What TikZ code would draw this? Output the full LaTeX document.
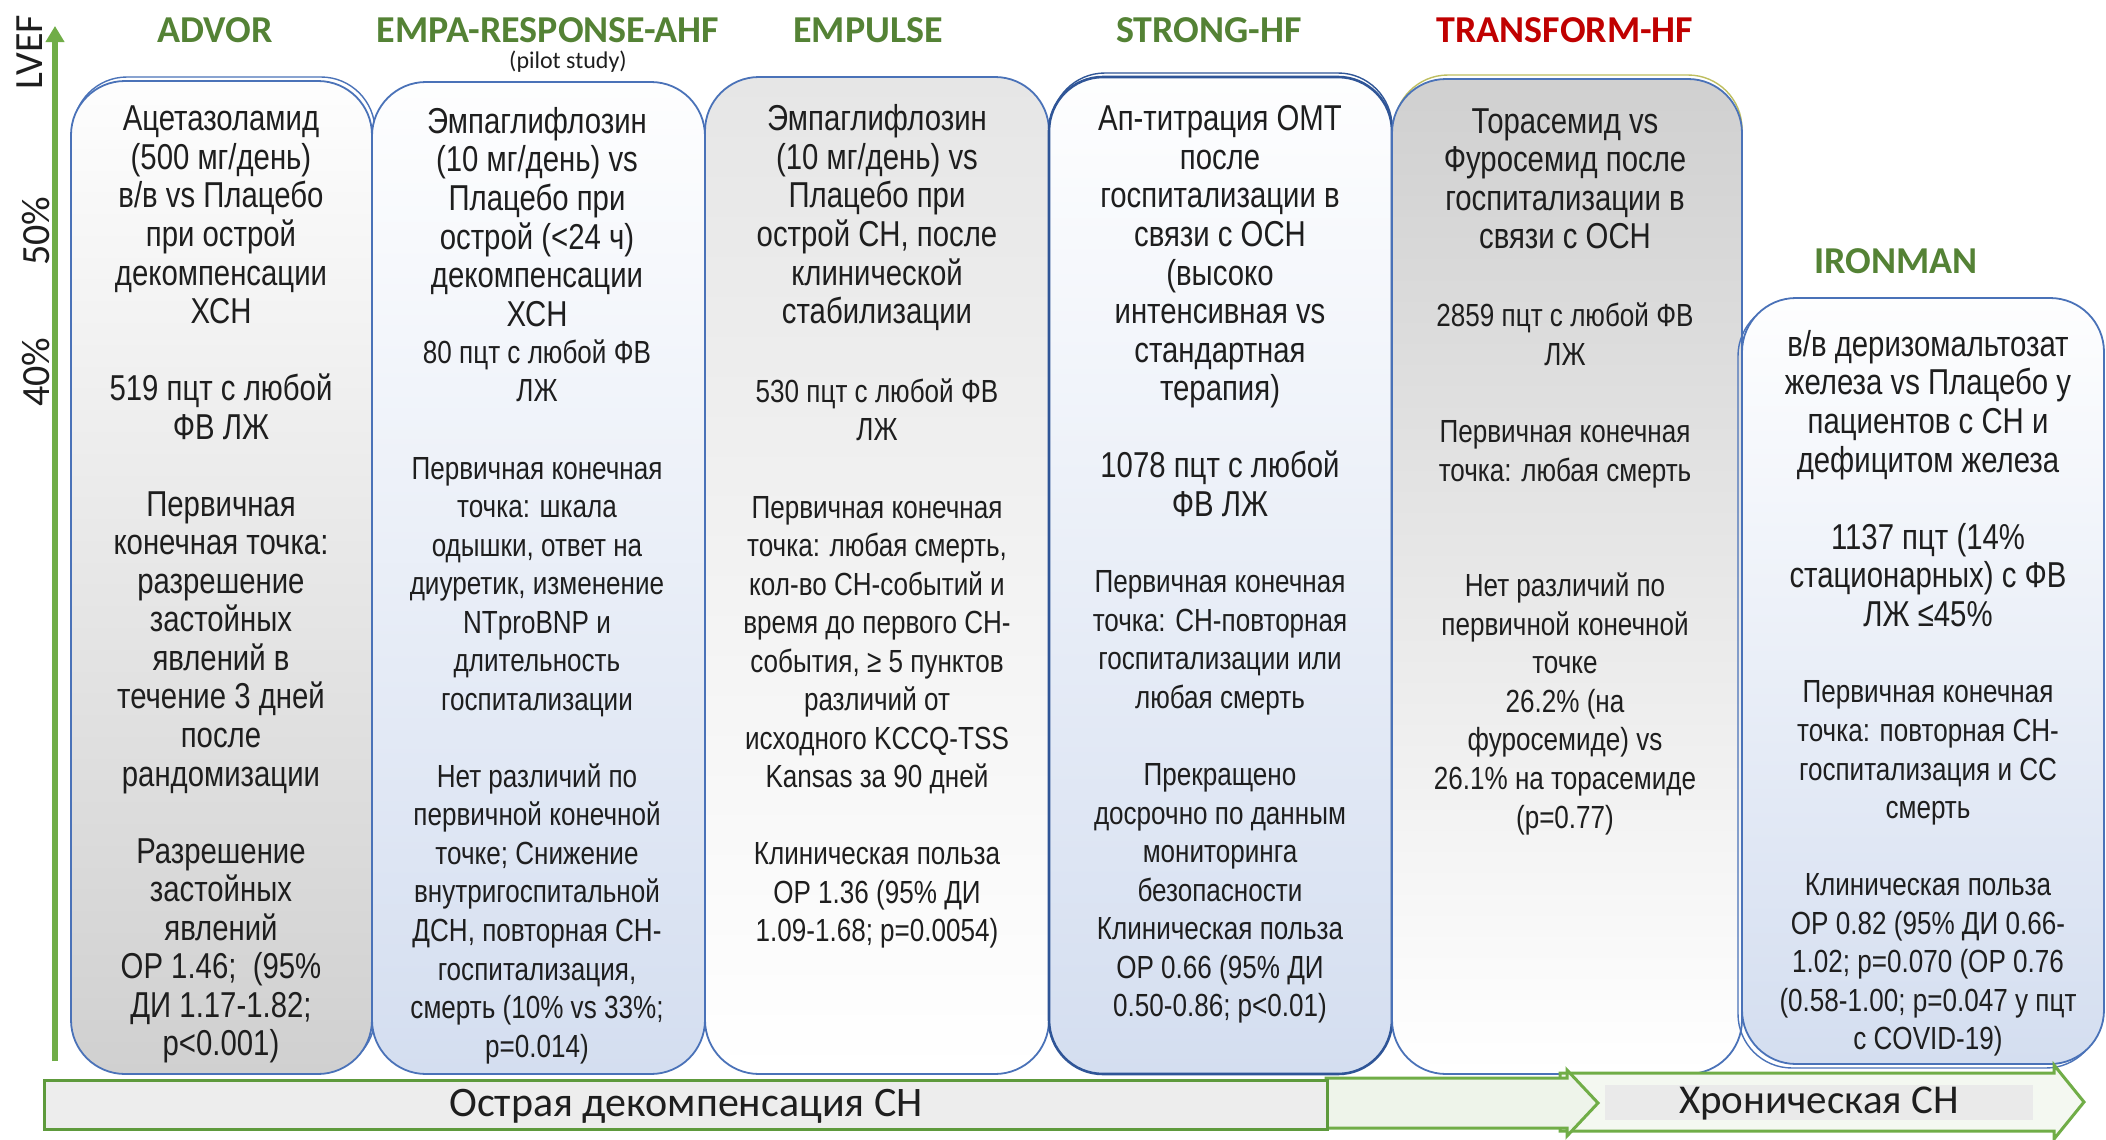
\documentclass[tikz,border=0pt]{standalone}
\usepackage{fontspec}
\setmainfont{Liberation Sans}
\newfontfamily\boxfont{Liberation Sans}[FakeStretch=0.815]
\newfontfamily\calfont{Carlito}
\usetikzlibrary{arrows.meta}
\definecolor{cardblue}{HTML}{4A72B8}
\definecolor{cardblue2}{HTML}{2F5597}
\definecolor{txt}{HTML}{1E1E1E}
\definecolor{hgreen}{HTML}{548235}
\definecolor{hred}{HTML}{C00000}
\definecolor{axgreen}{HTML}{70AD47}
\definecolor{arrgreen}{HTML}{5E9A3C}
\definecolor{greyA}{HTML}{D0D0D0}
\definecolor{greyB}{HTML}{E6E6E6}
\definecolor{blueA}{HTML}{D4DEF0}
\definecolor{barfill}{HTML}{EDEDED}
\definecolor{midfill}{HTML}{EEF4EA}
\definecolor{rightfill}{HTML}{F4F8F1}
\definecolor{labfill}{HTML}{EAEAEA}
\begin{document}
\begin{tikzpicture}[x=0.5pt,y=-0.5pt,
  card/.style={draw=cardblue, line width=0.9pt, rounded corners=27pt},
  ghost/.style={draw=cardblue, line width=0.7pt, rounded corners=27pt},
  big/.style={font=\boxfont\fontsize{18pt}{19.27pt}\selectfont, align=center, anchor=north, inner sep=0pt, text=txt},
  small/.style={font=\boxfont\fontsize{16pt}{19.27pt}\selectfont, align=center, anchor=north, inner sep=0pt, text=txt},
  trial/.style={font=\calfont\bfseries\fontsize{19pt}{21pt}\selectfont, text=hgreen, inner sep=0pt},
  axlabel/.style={font=\calfont\fontsize{20pt}{22pt}\selectfont, text=txt, rotate=90, inner sep=0pt},
  phase/.style={font=\calfont\fontsize{21pt}{24pt}\selectfont, text=txt, inner sep=0pt},
  greenline/.style={draw=arrgreen, line width=1.5pt, line join=miter}
]
\fill[white] (0,0) rectangle (2106,1140);
\useasboundingbox (0,0) rectangle (2106,1140);

% ---- axis ----
\coordinate (axbot) at (55,1061);
\coordinate (axtop) at (55,26);
\draw[axgreen, line width=2.6pt, -{Triangle[width=9pt,length=8pt]}] (axbot) -- (axtop);
\node[axlabel] (lvef) at (30,52) {LVEF};
\node[axlabel] (p50) at (36,231) {50\%};
\node[axlabel] (p40) at (36,372) {40\%};

% ---- headings ----
\node[trial] (hadvor) at (215,30) {ADVOR};
\node[trial] (hempa) at (548,30) {EMPA-RESPONSE-AHF};
\node[font=\calfont\fontsize{12pt}{14pt}\selectfont, text=txt, inner sep=0pt] (pilot) at (568,62) {(pilot study)};
\node[trial] (hempulse) at (868,30) {EMPULSE};
\node[trial] (hstrong) at (1209,30) {STRONG-HF};
\node[trial, text=hred] (htrans) at (1565,30) {TRANSFORM-HF};
\node[trial] (hiron) at (1896,261) {IRONMAN};

% ---- cards ----
\draw[ghost] (73,77) rectangle (375,1070);
\draw[card, top color=white!97!greyA, bottom color=greyA] (71,81) rectangle (372,1074);
\draw[card, top color=white!97!blueA, bottom color=blueA] (372,82) rectangle (705,1074);
\draw[card, top color=greyB, bottom color=white] (705,77) rectangle (1049,1074);
\draw[ghost, draw=cardblue2] (1051,73) rectangle (1392,1070);
\draw[card, draw=cardblue2, line width=1.3pt, top color=white!97!blueA, bottom color=blueA] (1049,77) rectangle (1392,1074);
\draw[ghost, draw=yellow!60!cardblue] (1394,75) rectangle (1742,1070);
\draw[card, top color=greyA, middle color=white, bottom color=white] (1392,79) rectangle (1742,1074);
\draw[ghost] (1738,302) rectangle (2100,1068);
\draw[card, top color=white!97!blueA, bottom color=blueA] (1742,298) rectangle (2104,1064);

% ---- card texts ----
\node[big] (t1) at (221,103.5) {\strut Ацетазоламид\\(500 мг/день)\\в/в vs Плацебо\\при острой\\декомпенсации\\ХСН\\[19.27pt]519 пцт с любой\\ФВ ЛЖ\\[19.27pt]Первичная\\конечная точка:\\разрешение\\застойных\\явлений в\\течение 3 дней\\после\\рандомизации\\[19.27pt]Разрешение\\застойных\\явлений\\ОР 1.46;~~(95\%\\ДИ 1.17-1.82;\\p<0.001)};

\node[big] (t2a) at (537,106) {\strut Эмпаглифлозин\\(10 мг/день) vs\\Плацебо при\\острой (<24 ч)\\декомпенсации\\ХСН};
\node[small] (t2b) at (537,336) {\strut 80 пцт с любой ФВ\\ЛЖ\\[19.27pt]Первичная конечная\\точка: шкала\\одышки, ответ на\\диуретик, изменение\\NTproBNP и\\длительность\\госпитализации\\[19.27pt]Нет различий по\\первичной конечной\\точке; Снижение\\внутригоспитальной\\ДСН, повторная СН-\\госпитализация,\\смерть (10\% vs 33\%;\\p=0.014)};

\node[big] (t3a) at (877,103.5) {\strut Эмпаглифлозин\\(10 мг/день) vs\\Плацебо при\\острой СН, после\\клинической\\стабилизации};
\node[small] (t3b) at (877,375) {\strut 530 пцт с любой ФВ\\ЛЖ\\[19.27pt]Первичная конечная\\точка: любая смерть,\\кол-во СН-событий и\\время до первого СН-\\события, ≥ 5 пунктов\\различий от\\исходного KCCQ-TSS\\Kansas за 90 дней\\[19.27pt]Клиническая польза\\ОР 1.36 (95\% ДИ\\1.09-1.68; p=0.0054)};

\node[big] (t4a) at (1220,103.5) {\strut Ап-титрация ОМТ\\после\\госпитализации в\\связи с ОСН\\(высоко\\интенсивная vs\\стандартная\\терапия)\\[19.27pt]1078 пцт с любой\\ФВ ЛЖ};
\node[small] (t4b) at (1220,565.5) {\strut Первичная конечная\\точка: СН-повторная\\госпитализации или\\любая смерть\\[19.27pt]Прекращено\\досрочно по данным\\мониторинга\\безопасности\\Клиническая польза\\ОР 0.66 (95\% ДИ\\0.50-0.86; p<0.01)};

\node[big] (t5a) at (1565,106) {\strut Торасемид vs\\Фуросемид после\\госпитализации в\\связи с ОСН};
\node[small] (t5b) at (1565,299.6) {\strut 2859 пцт с любой ФВ\\ЛЖ\\[19.27pt]Первичная конечная\\точка: любая смерть\\[38.54pt]Нет различий по\\первичной конечной\\точке\\26.2\% (на\\фуросемиде) vs\\26.1\% на торасемиде\\(p=0.77)};

\node[big] (t6a) at (1928,329) {\strut в/в деризомальтозат\\железа vs Плацебо у\\пациентов с СН и\\дефицитом железа\\[19.27pt]1137 пцт (14\%\\стационарных) с ФВ\\ЛЖ ≤45\%};
\node[small] (t6b) at (1928,675.6) {\strut Первичная конечная\\точка: повторная СН-\\госпитализация и СС\\смерть\\[19.27pt]Клиническая польза\\ОР 0.82 (95\% ДИ 0.66-\\1.02; p=0.070 (ОР 0.76\\(0.58-1.00; p=0.047 у пцт\\с COVID-19)};

% ---- bottom phase arrows ----
\draw[greenline, draw=axgreen, fill=rightfill] (1560,1073) -- (2054,1073) -- (2054,1065) -- (2084,1102) -- (2054,1139) -- (2054,1131) -- (1560,1131) -- cycle;
\fill[labfill] (1605,1085) rectangle (2033,1120);
\node[phase, font=\calfont\fontsize{20.5pt}{23pt}\selectfont] (chronic) at (1819,1103) {Хроническая СН};
\draw[greenline, draw=axgreen, fill=midfill] (1326,1078) -- (1567,1078) -- (1567,1070) -- (1598,1103) -- (1567,1136) -- (1567,1128) -- (1326,1128) -- cycle;
\draw[greenline, fill=barfill] (44,1080) rectangle (1327,1129);
\node[phase] (acute) at (686,1106) {Острая декомпенсация СН};
\end{tikzpicture}
\end{document}
